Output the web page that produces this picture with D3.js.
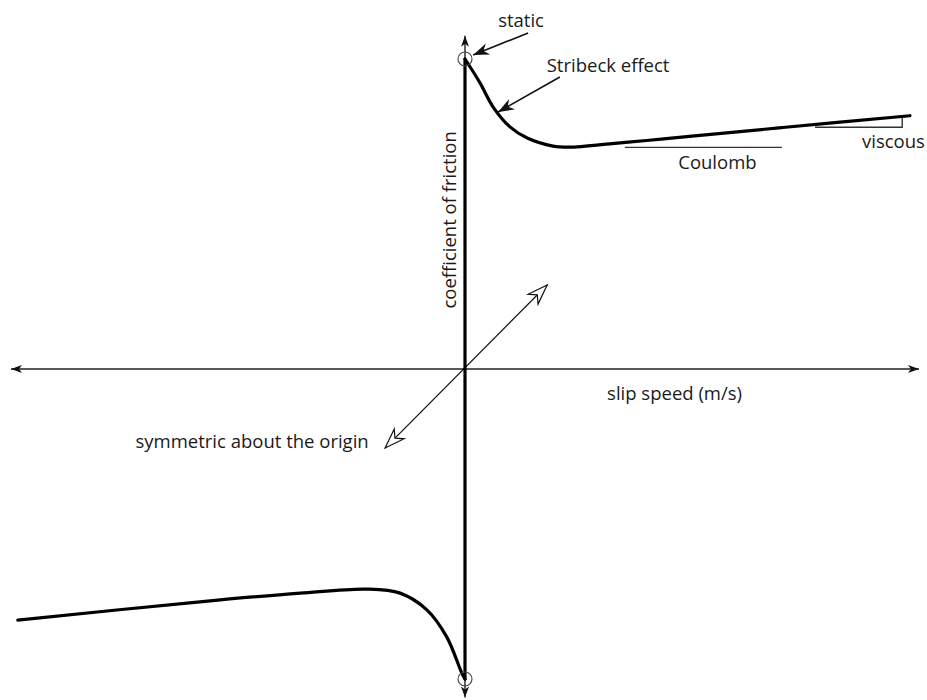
<!DOCTYPE html>
<html>
<head>
<meta charset="utf-8">
<script src="https://cdn.jsdelivr.net/npm/d3@7"></script>
<style>
  body { margin: 0; background: #fff; }
  svg text { font-family: "Open Sans", sans-serif; fill: #1a1a1a; }
</style>
</head>
<body>
<div id="chart"></div>
<script>
// friction curve (slip speed, coefficient of friction), normalised
let upperSpeed = [0, 0.033, 0.062, 0.099, 0.137, 0.194, 0.24, 0.30, 0.40, 0.50, 0.70, 0.98];
let upperMu    = [1.0, 0.923, 0.845, 0.781, 0.745, 0.719, 0.716, 0.724, 0.737, 0.751, 0.779, 0.817];
let lowerSpeed = [-0.985, -0.584, -0.363, -0.216, -0.143, -0.084, -0.040, -0.007, 0];
let lowerMu    = [-0.81, -0.751, -0.723, -0.71, -0.723, -0.777, -0.865, -0.981, -1.0];
let jumpSpeed  = [0, 0];
let jumpMu     = [-1.0, 1.0];

// labels
let axisLabels = ["slip speed (m/s)", "coefficient of friction"];
let noteLabels = ["static", "Stribeck effect", "Coulomb", "viscous", "symmetric about the origin"];

let width = 927, height = 700;

let svg = d3.select("#chart").append("svg")
    .attr("width", width)
    .attr("height", height);

let x = d3.scaleLinear().domain([-1, 1]).range([11, 919]);
let y = d3.scaleLinear().domain([-1, 1]).range([679, 59]);

// markers
let defs = svg.append("defs");
defs.append("marker")
    .attr("id", "axisHead")
    .attr("viewBox", "-12 -6 14 12")
    .attr("refX", 0).attr("refY", 0)
    .attr("markerUnits", "userSpaceOnUse")
    .attr("markerWidth", 14).attr("markerHeight", 12)
    .attr("orient", "auto-start-reverse")
    .append("path")
    .attr("d", "M0,0 L-11,-4 L-8,0 L-11,4 Z")
    .attr("fill", "#111");
defs.append("marker")
    .attr("id", "noteHead")
    .attr("viewBox", "-18 -8 20 16")
    .attr("refX", 0).attr("refY", 0)
    .attr("markerUnits", "userSpaceOnUse")
    .attr("markerWidth", 20).attr("markerHeight", 16)
    .attr("orient", "auto")
    .append("path")
    .attr("d", "M0,0 L-16,-6 L-11,0 L-16,6 Z")
    .attr("fill", "#111");
defs.append("marker")
    .attr("id", "openHead")
    .attr("viewBox", "-22 -10 24 20")
    .attr("refX", 0).attr("refY", 0)
    .attr("markerUnits", "userSpaceOnUse")
    .attr("markerWidth", 24).attr("markerHeight", 20)
    .attr("orient", "auto-start-reverse")
    .append("path")
    .attr("d", "M0,0 L-20,-7 L-14,0 L-20,7 Z")
    .attr("fill", "#fff")
    .attr("stroke", "#111")
    .attr("stroke-width", 1.2);

// axes
svg.append("line")
    .attr("class", "x-axis")
    .attr("x1", x(-1)).attr("x2", x(1))
    .attr("y1", y(0)).attr("y2", y(0))
    .attr("stroke", "#222").attr("stroke-width", 1.4)
    .attr("marker-start", "url(#axisHead)")
    .attr("marker-end", "url(#axisHead)");
svg.append("line")
    .attr("class", "y-axis")
    .attr("x1", x(0)).attr("x2", x(0))
    .attr("y1", y(-1.06)).attr("y2", y(1.075))
    .attr("stroke", "#222").attr("stroke-width", 1.4)
    .attr("marker-start", "url(#axisHead)")
    .attr("marker-end", "url(#axisHead)");

// symmetry arrow
svg.append("line")
    .attr("x1", x(-0.176)).attr("y1", y(-0.255))
    .attr("x2", x(0.181)).attr("y2", y(0.271))
    .attr("stroke", "#111").attr("stroke-width", 1.2)
    .attr("marker-start", "url(#openHead)")
    .attr("marker-end", "url(#openHead)");

// friction curve
let line = d3.line()
    .x(function(d) { return x(d[0]); })
    .y(function(d) { return y(d[1]); })
    .curve(d3.curveCatmullRom.alpha(0.5));

let curves = [
    d3.zip(lowerSpeed, lowerMu),
    d3.zip(jumpSpeed, jumpMu),
    d3.zip(upperSpeed, upperMu)
];
svg.append("g")
    .attr("class", "friction")
    .selectAll("path")
    .data(curves)
    .enter().append("path")
    .attr("d", line)
    .attr("fill", "none")
    .attr("stroke", "#000")
    .attr("stroke-width", 3.2)
    .attr("stroke-linecap", "round")
    .attr("stroke-linejoin", "round");

// static points
svg.selectAll(".static-pt")
    .data([[upperSpeed[0], upperMu[0]], [lowerSpeed[lowerSpeed.length - 1], lowerMu[lowerMu.length - 1]]])
    .enter().append("circle")
    .attr("class", "static-pt")
    .attr("cx", function(d) { return x(d[0]); })
    .attr("cy", function(d) { return y(d[1]); })
    .attr("r", 7)
    .attr("fill", "none")
    .attr("stroke", "#444")
    .attr("stroke-width", 1.1);

// Coulomb and viscous guides
svg.append("line")
    .attr("x1", x(0.352)).attr("x2", x(0.698))
    .attr("y1", y(0.715)).attr("y2", y(0.715))
    .attr("stroke", "#333").attr("stroke-width", 1.4);
svg.append("path")
    .attr("d", "M" + x(0.771) + "," + y(0.78) + "H" + x(0.963) + "V" + y(0.81))
    .attr("fill", "none")
    .attr("stroke", "#333").attr("stroke-width", 1.4);

// annotation arrows
let arrows = [
    [[0.139, 1.084], [0.018, 1.013]],
    [[0.209, 0.942], [0.073, 0.829]]
];
svg.selectAll(".note-arrow")
    .data(arrows)
    .enter().append("line")
    .attr("class", "note-arrow")
    .attr("x1", function(d) { return x(d[0][0]); })
    .attr("y1", function(d) { return y(d[0][1]); })
    .attr("x2", function(d) { return x(d[1][0]); })
    .attr("y2", function(d) { return y(d[1][1]); })
    .attr("stroke", "#111").attr("stroke-width", 1.6)
    .attr("marker-end", "url(#noteHead)");

// text
let fs = 18.5;
svg.append("text").text(noteLabels[0])
    .attr("x", x(0.073)).attr("y", y(1.103))
    .attr("font-size", fs);
svg.append("text").text(noteLabels[1])
    .attr("x", x(0.18)).attr("y", y(0.958))
    .attr("font-size", fs);
svg.append("text").text(noteLabels[2])
    .attr("x", x(0.556)).attr("y", y(0.645))
    .attr("text-anchor", "middle")
    .attr("font-size", fs);
svg.append("text").text(noteLabels[3])
    .attr("x", x(1.013)).attr("y", y(0.713))
    .attr("text-anchor", "end")
    .attr("font-size", fs);
svg.append("text").text(noteLabels[4])
    .attr("x", x(-0.469)).attr("y", y(-0.255))
    .attr("text-anchor", "middle")
    .attr("font-size", fs);
svg.append("text").text(axisLabels[0])
    .attr("x", x(0.313)).attr("y", y(-0.1))
    .attr("font-size", fs);
svg.append("text").text(axisLabels[1])
    .attr("transform", "translate(" + x(-0.02) + "," + y(0.481) + ") rotate(-90)")
    .attr("text-anchor", "middle")
    .attr("font-size", fs);
</script>
</body>
</html>
